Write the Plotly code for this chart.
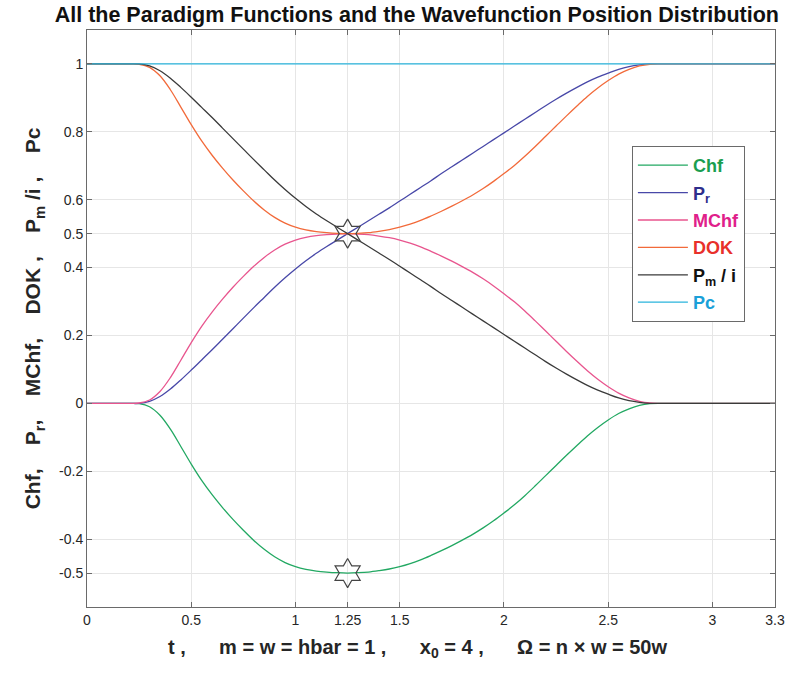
import plotly.graph_objects as go

t = [0, 0.2, 0.25, 0.3, 0.35, 0.4, 0.45, 0.5, 0.55, 0.6, 0.65,
     0.7, 0.75, 0.8, 0.85, 0.9, 0.95, 1.0, 1.05, 1.1, 1.15,
     1.2, 1.25, 1.3, 1.35, 1.4, 1.45, 1.5, 1.55, 1.6, 1.65,
     1.7, 1.75, 1.8, 1.85, 1.9, 1.95, 2.0, 2.05, 2.1, 2.15,
     2.2, 2.25, 2.3, 2.35, 2.4, 2.45, 2.5, 2.55, 2.6, 2.65,
     2.7, 2.75, 2.8, 3.3]

chf = [0, 0, -0.001, -0.010, -0.035, -0.076, -0.127, -0.179, -0.227, -0.269, -0.307,
       -0.342, -0.374, -0.404, -0.430, -0.452, -0.469, -0.481, -0.489, -0.494, -0.497,
       -0.499, -0.500, -0.499, -0.497, -0.493, -0.488, -0.481, -0.472, -0.461, -0.448,
       -0.434, -0.419, -0.403, -0.386, -0.367, -0.346, -0.323, -0.299, -0.272, -0.243,
       -0.213, -0.183, -0.153, -0.124, -0.096, -0.071, -0.049, -0.030, -0.016, -0.006,
       -0.001, 0, 0, 0]

pr = [0, 0, 0, 0.006, 0.020, 0.042, 0.069, 0.098, 0.128, 0.158, 0.189,
      0.220, 0.251, 0.282, 0.312, 0.342, 0.370, 0.396, 0.420, 0.442, 0.462,
      0.481, 0.500, 0.519, 0.538, 0.557, 0.576, 0.596, 0.616, 0.636, 0.656,
      0.677, 0.697, 0.717, 0.737, 0.757, 0.777, 0.797, 0.817, 0.837, 0.857,
      0.877, 0.896, 0.914, 0.931, 0.947, 0.961, 0.973, 0.984, 0.992, 0.997,
      1.0, 1.0, 1.0, 1.0]

mchf = [0, 0, 0.001, 0.010, 0.035, 0.076, 0.127, 0.179, 0.227, 0.269, 0.307,
        0.342, 0.374, 0.404, 0.430, 0.452, 0.469, 0.481, 0.489, 0.494, 0.497,
        0.499, 0.500, 0.499, 0.497, 0.493, 0.488, 0.481, 0.472, 0.461, 0.448,
        0.434, 0.419, 0.403, 0.386, 0.367, 0.346, 0.323, 0.299, 0.272, 0.243,
        0.213, 0.183, 0.153, 0.124, 0.096, 0.071, 0.049, 0.030, 0.016, 0.006,
        0.001, 0, 0, 0]

dok = [1, 1, 0.999, 0.990, 0.965, 0.924, 0.873, 0.821, 0.773, 0.731, 0.693,
       0.658, 0.626, 0.596, 0.570, 0.548, 0.531, 0.519, 0.511, 0.506, 0.503,
       0.501, 0.500, 0.501, 0.503, 0.507, 0.512, 0.519, 0.528, 0.539, 0.552,
       0.566, 0.581, 0.597, 0.614, 0.633, 0.654, 0.677, 0.701, 0.728, 0.757,
       0.787, 0.817, 0.847, 0.876, 0.904, 0.929, 0.951, 0.970, 0.984, 0.994,
       0.999, 1, 1, 1]

pm = [1, 1, 1, 0.994, 0.980, 0.958, 0.931, 0.902, 0.872, 0.842, 0.811,
      0.780, 0.749, 0.718, 0.688, 0.658, 0.630, 0.604, 0.580, 0.558, 0.538,
      0.519, 0.500, 0.481, 0.462, 0.443, 0.424, 0.404, 0.384, 0.364, 0.344,
      0.323, 0.303, 0.283, 0.263, 0.243, 0.223, 0.203, 0.183, 0.163, 0.143,
      0.123, 0.104, 0.086, 0.069, 0.053, 0.039, 0.027, 0.016, 0.008, 0.003,
      0, 0, 0, 0]

pc_t = [0, 3.3]
pc = [1, 1]

star_t = [1.25, 1.25]
star_v = [0.5, -0.5]

x_ticks = [0, 0.5, 1, 1.25, 1.5, 2, 2.5, 3, 3.3]
x_tick_text = ["0", "0.5", "1", "1.25", "1.5", "2", "2.5", "3", "3.3"]
y_ticks = [-0.5, -0.4, -0.2, 0, 0.2, 0.4, 0.5, 0.6, 0.8, 1]
y_tick_text = ["-0.5", "-0.4", "-0.2", "0", "0.2", "0.4", "0.5", "0.6", "0.8", "1"]

series = [
    ("Chf", t, chf, "#22a862", "#1a9e50"),
    ("P<sub>r</sub>", t, pr, "#4848a8", "#2e2e8c"),
    ("MChf", t, mchf, "#e8558e", "#e0208a"),
    ("DOK", t, dok, "#f26a3a", "#e8302a"),
    ("P<sub>m</sub> / i", t, pm, "#3a3a3a", "#111111"),
    ("Pc", pc_t, pc, "#2ab4dc", "#1aa0d8"),
]

fig = go.Figure()
for i, (name, xs, ys, lc, tc) in enumerate(series):
    fig.add_trace(go.Scatter(
        x=xs, y=ys, mode="lines", legendgroup=f"g{i}",
        name=f"<span style='color:{tc}'><b>{name}</b></span>",
        line=dict(color=lc, width=1.3, shape="spline", smoothing=1.0),
    ))

fig.add_trace(go.Scatter(
    x=star_t, y=star_v, mode="markers", showlegend=False,
    marker=dict(symbol="hexagram-open", size=22, color="#444444", line=dict(width=1.2)),
))

axis_common = dict(
    showline=True, linecolor="#6a6a6a", linewidth=1, mirror="ticks",
    ticks="inside", ticklen=5, tickcolor="#6a6a6a",
    showgrid=True, gridcolor="#e6e6e6", gridwidth=1, zeroline=False,
    tickfont=dict(family="Liberation Sans, Arial, sans-serif", size=14, color="#262626"),
)

fig.update_layout(
    width=797, height=675,
    margin=dict(l=87, r=17, t=30, b=68),
    paper_bgcolor="white", plot_bgcolor="white",
    title=dict(
        text="<b>All the Paradigm Functions and the Wavefunction Position Distribution</b>",
        x=0.523, xanchor="center", y=0.978, yanchor="middle",
        font=dict(family="Liberation Sans, Arial", size=21.5, color="#111111"),
    ),
    xaxis=dict(
        range=[0, 3.3], tickvals=x_ticks, ticktext=x_tick_text,
        **axis_common,
    ),
    yaxis=dict(
        range=[-0.6, 1.1], tickvals=y_ticks, ticktext=y_tick_text,
        title=dict(text="<b>Chf,    P<sub>r</sub>,    MChf,    DOK ,    P<sub>m</sub> /i ,    Pc</b>",
                   font=dict(family="Liberation Sans, Arial", size=21, color="#262626"), standoff=12),
        **axis_common,
    ),
    legend=dict(
        x=0.792, y=0.799, xanchor="left", yanchor="top",
        bgcolor="white", bordercolor="#6a6a6a", borderwidth=1,
        font=dict(family="Liberation Sans, Arial", size=18),
        itemwidth=50, tracegroupgap=1,
    ),
    annotations=[dict(
        text="<b>t ,      m = w = hbar = 1 ,      x<sub>0</sub> = 4 ,      Ω = n × w = 50w</b>",
        xref="paper", yref="paper", x=0.4805, y=-0.072, xanchor="center", yanchor="middle",
        showarrow=False, font=dict(family="Liberation Sans, Arial", size=20, color="#262626"),
    )],
    showlegend=True,
)

fig.write_html("out.html")
